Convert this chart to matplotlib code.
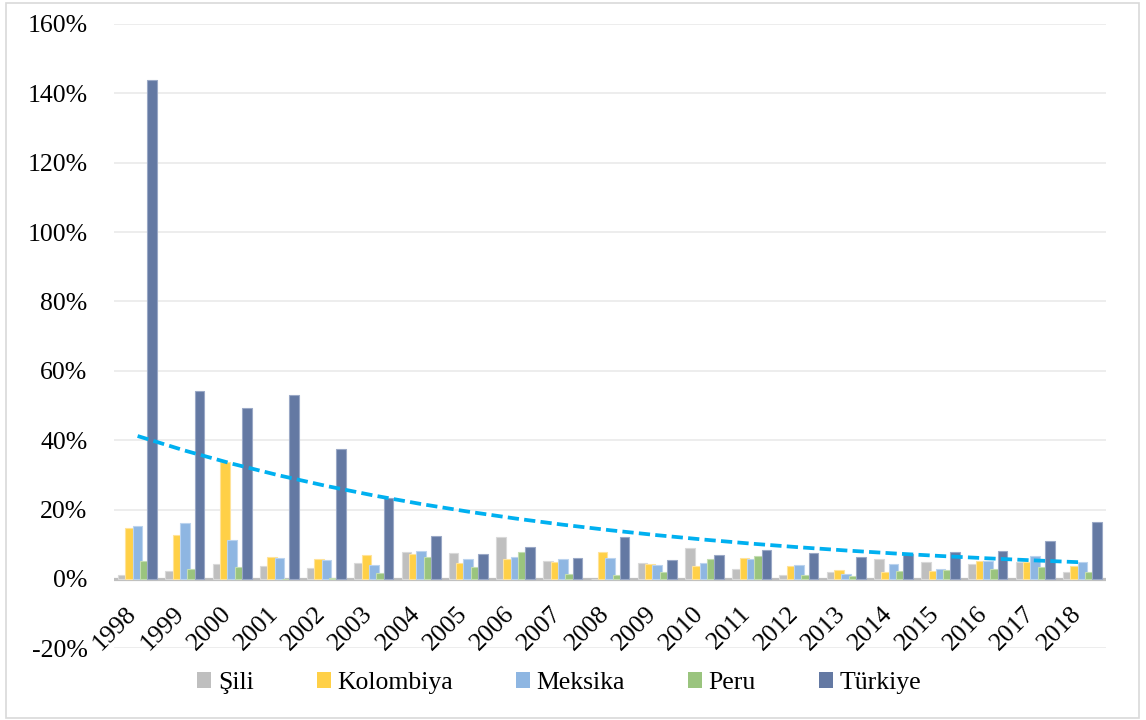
import numpy as np
import matplotlib
matplotlib.use("Agg")
import matplotlib.pyplot as plt
from matplotlib.patches import Patch, Rectangle

# Annual inflation rates (%), 1998-2018
years = [str(y) for y in range(1998, 2019)]
sili = [1.1, 2.2, 4.3, 3.8, 3.2, 4.5, 7.8, 7.6, 12.2, 5.3, 0.0, 4.6, 8.9, 2.9, 1.1, 2.0, 5.8, 4.9, 4.4, 5.0, 2.0]
kolombiya = [14.8, 12.7, 33.7, 6.4, 5.8, 6.8, 7.3, 4.5, 5.7, 5.0, 7.8, 4.3, 3.7, 5.9, 3.7, 2.5, 2.0, 2.3, 5.2, 5.0, 3.6]
meksika = [15.3, 16.1, 11.1, 5.9, 5.4, 4.0, 8.0, 5.7, 6.3, 5.7, 6.1, 4.0, 4.5, 5.7, 4.1, 1.5, 4.4, 2.8, 5.2, 6.6, 4.9]
peru = [5.2, 2.9, 3.5, 0.1, 0.2, 1.7, 6.3, 3.4, 7.7, 1.4, 1.0, 2.0, 5.7, 6.7, 1.2, 0.9, 2.2, 2.6, 2.9, 3.5, 2.0]
turkiye = [143.9, 54.2, 49.3, 53.0, 37.5, 23.4, 12.4, 7.1, 9.3, 6.1, 12.0, 5.4, 7.0, 8.2, 7.4, 6.3, 7.3, 7.8, 8.0, 10.9, 16.3]

series_names = ["Şili", "Kolombiya", "Meksika", "Peru", "Türkiye"]
series_vals = [sili, kolombiya, meksika, peru, turkiye]
colors = ["#BFBFBF", "#FFD047", "#8EB6E2", "#9AC47E", "#6479A3"]
edges = ["#D9D9D9", "#FFE39A", "#BBD3EE", "#C3DDB2", "#9AA8C6"]

y_ticks = [-20, 0, 20, 40, 60, 80, 100, 120, 140, 160]
y_tick_labels = [f"{t}%" for t in y_ticks]

plt.rcParams["font.family"] = ["Liberation Serif", "DejaVu Serif"]

fig = plt.figure(figsize=(11.46, 7.2), dpi=100)
ax = fig.add_axes([114 / 1146, 1 - 648.3 / 720, (1106 - 114) / 1146, (648.3 - 24) / 720])

x = np.arange(len(years))
bar_w = 0.204
step = 0.155
for i, (name, vals) in enumerate(zip(series_names, series_vals)):
    ax.bar(x + (i - 2) * step, vals, width=bar_w, color=colors[i],
           edgecolor=edges[i], linewidth=0.8, zorder=3 + i, label=name)

# Exponential trend line fitted to the Türkiye series
coef = np.polyfit(x, np.log(turkiye), 1)
trend = np.exp(np.polyval(coef, x))
ax.plot(x, trend, color="#00B0F0", lw=2.7, linestyle=(0, (3.0, 1.4)),
        zorder=10)

ax.set_xlim(-0.5, len(years) - 0.5)
ax.set_ylim(-20, 160)
ax.set_yticks(y_ticks)
ax.set_yticklabels(y_tick_labels)
ax.set_xticks([])
ax.tick_params(axis="both", length=0, labelsize=18.5, colors="black")
ax.tick_params(axis="y", pad=19)

# Category labels hang just below the zero line
for xi, lab in zip(x, years):
    ax.annotate(lab, xy=(xi, 0), xytext=(2.5, -17), textcoords="offset points",
                rotation=45, ha="right", va="top", fontsize=18.5,
                annotation_clip=False)

for s in ax.spines.values():
    s.set_visible(False)
ax.grid(axis="y", color="#EDEDED", lw=1.4, zorder=0)
ax.set_axisbelow(True)
ax.axhline(0, color="#BFBFBF", lw=2.3, zorder=2)

handles = [Patch(facecolor=c, edgecolor="none") for c in colors]
fig.legend(handles, series_names, loc="center", ncol=5,
           bbox_to_anchor=(559 / 1146, 1 - 683 / 720), frameon=False,
           fontsize=18.5, handlelength=0.55, handleheight=0.55,
           handletextpad=0.25, columnspacing=2.45)

# Outer chart frame
fig.patches.append(Rectangle((6 / 1146, 2 / 720), 1133 / 1146, 715 / 720,
                             transform=fig.transFigure, fill=False,
                             edgecolor="#D9D9D9", lw=1.2))

fig.savefig("out.png", dpi=100)
